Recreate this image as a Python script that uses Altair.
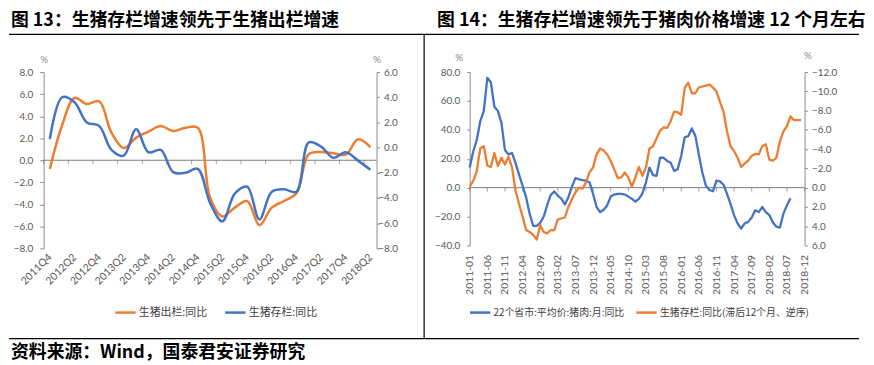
import json
import altair as alt
import pandas as pd

# ---------------- data: figure 13 (quarterly) ----------------
QUARTERS = ["2011Q4", "2012Q1", "2012Q2", "2012Q3", "2012Q4",
            "2013Q1", "2013Q2", "2013Q3", "2013Q4",
            "2014Q1", "2014Q2", "2014Q3", "2014Q4",
            "2015Q1", "2015Q2", "2015Q3", "2015Q4",
            "2016Q1", "2016Q2", "2016Q3", "2016Q4",
            "2017Q1", "2017Q2", "2017Q3", "2017Q4",
            "2018Q1", "2018Q2"]
# 生猪出栏:同比 (left axis)
OUT_YOY = [-0.8, 3.2, 5.65, 5.1, 5.35, 2.5, 1.1, 2.05, 2.6, 3.1, 2.65, 2.95, 2.95,
           -3.4, -5.1, -4.3, -3.7, -5.9, -4.3, -3.7, -3.0, 0.55, 0.75, 0.63, 0.5, 1.9, 1.2]
# 生猪存栏:同比 (right axis)
STOCK_YOY = [0.68, 4.0, 3.6, 2.0, 1.73, -0.18, -0.63, 1.47, -0.37, -0.18, -1.94, -2.0, -1.68,
             -4.4, -5.85, -3.65, -3.1, -5.7, -3.5, -3.3, -3.5, 0.42, 0.08, -0.81, -0.37, -1.03, -1.76]

# ---------------- data: figure 14 (monthly) ----------------
MONTHS = [f"{y}-{m:02d}" for y in range(2011, 2019) for m in range(1, 13)]
# 22个省市:平均价:猪肉:月:同比 (left axis), 2011-01 .. 2018-08
PORK_YOY = [14, 25, 33, 46, 53, 76, 73, 56, 53, 45,
            26, 23, 24, 17, 9, 1.4, -6.6, -18, -26.4, -26.4,
            -24.4, -20, -12, -5, -2.7, -5.5, -7.7, -11.6, -6.6, 0.7,
            6.6, 5.8, 5.2, 4.8, 3.6, -4.3, -13.4, -16.9, -15.3, -12.3,
            -6.2, -4.8, -4.3, -4.3, -4.8, -6.2, -7.7, -9.6, -7.7, -3.9,
            3.6, 13.9, 8.7, 8.2, 20.7, 20.7, 18.5, 17.3, 11.6, 12.8,
            21.9, 34.9, 35.6, 41, 36, 23, 10.5, 1.4, -1.6, -2.5,
            4.8, 4.3, 2, -4.3, -11.2, -19, -24.8, -28.3, -24.8, -23.7,
            -20.7, -15.7, -16.9, -13.4, -16.9, -19, -24, -27, -27.6, -18,
            -12.3, -7.3]
# 生猪存栏:同比(滞后12个月、逆序) (right axis, reversed), 2011-01 .. 2018-11
STOCK_LAG_YOY = [-0.1, -0.7, -1.7, -4.1, -4.3, -2.3, -2.15, -3.6, -2.25, -3.1,
                 -2.4, -3.2, -2.1, 0.3, 1.7, 3.0, 4.4, 4.6, 4.9, 5.4,
                 3.9, 4.6, 4.75, 4.4, 4.4, 3.3, 3.2, 3.1, 2.0, 1.2,
                 0.5, 0.0, 0.1, -0.55, -1.6, -2.1, -3.45, -4.07, -3.86, -3.45,
                 -2.77, -1.9, -1.0, -1.06, -1.57, -1.06, -0.1, -1.06, -2.15, -1.23,
                 -2.1, -4.07, -4.3, -5.1, -5.9, -6.26, -6.2, -6.9, -7.9, -7.83,
                 -7.56, -10.36, -10.9, -9.8, -9.8, -10.4, -10.5, -10.6, -10.7, -10.4,
                 -10.0, -8.9, -7.9, -5.85, -4.3, -3.8, -3.1, -2.15, -2.5, -2.8,
                 -3.3, -3.5, -3.45, -4.3, -4.5, -2.9, -2.8, -3.1, -4.8, -5.85,
                 -6.4, -7.4, -7.0, -7.0, -7.0]

SER1_A = "生猪出栏:同比"
SER1_B = "生猪存栏:同比"
SER2_A = "22个省市:平均价:猪肉:月:同比"
SER2_B = "生猪存栏:同比(滞后12个月、逆序)"
TITLE1 = "图 13：生猪存栏增速领先于生猪出栏增速"
TITLE2 = "图 14：生猪存栏增速领先于猪肉价格增速 12 个月左右"
SOURCE = "资料来源：Wind，国泰君安证券研究"

# ---------------- styles ----------------
ORANGE = "#ED7D31"
BLUE = "#4472C4"
AXIS_GREY = "#8c8c8c"
ZERO_GREY = "#7a7a7a"
LABEL_GREY = "#595959"
NUM_FONT = "Lato"
CJK_FONT = "Noto Sans CJK SC"

W1, H1 = 336, 178
W2, H2 = 338, 175
GAP = 94

one = pd.DataFrame({"k": [0]})


def y_axis(orient, values, tsize, pad, tx, ty, align=None):
    kw = dict(orient=orient, values=values, format=".1f", tickSize=tsize, labelPadding=pad,
              domainColor=AXIS_GREY, tickColor=AXIS_GREY, labelColor=LABEL_GREY,
              labelFont=NUM_FONT, labelFontSize=10, grid=False,
              title="%", titleAngle=0, titleX=tx, titleY=ty, titleAlign="center",
              titleBaseline="middle", titleFont=NUM_FONT, titleFontSize=10,
              titleFontWeight="normal", titleColor="#8c8c8c")
    if align:
        kw["labelAlign"] = align
    return alt.Axis(**kw)


def x_axis(cats, values, angle, pad):
    expr = json.dumps(cats) + "[datum.value]"
    return alt.Axis(values=values, labelExpr=expr, labelAngle=angle, labelAlign="right",
                    labelBaseline="middle", labelOverlap=False, labelFlush=False,
                    domain=False, ticks=False, tickSize=0, labelPadding=pad,
                    labelFont=NUM_FONT, labelFontSize=10.5, labelColor=LABEL_GREY,
                    grid=False, title=None)


def legend(x, y, colpad, fsize):
    return alt.Legend(orient="none", legendX=x, legendY=y, direction="horizontal", title=None,
                      symbolType="stroke", symbolSize=420, symbolStrokeWidth=2.5,
                      labelFont=CJK_FONT, labelFontSize=fsize, labelColor="#404040",
                      labelOffset=2, columnPadding=colpad, padding=0, labelLimit=300)


def text_mark(txt, x, y, size=18):
    return alt.Chart(one).mark_text(text=txt, font=CJK_FONT, fontSize=size, fontWeight="bold",
                                    align="left", baseline="middle", color="#000000").encode(
        x=alt.value(x), y=alt.value(y))


def hrule(x1, x2, y, color="#000000"):
    return alt.Chart(one).mark_rule(color=color, strokeWidth=1.2).encode(
        x=alt.value(x1), x2=alt.value(x2), y=alt.value(y))


def vrule(x, y1, y2):
    return alt.Chart(one).mark_rule(color="#000000", strokeWidth=1.2).encode(
        x=alt.value(x), y=alt.value(y1), y2=alt.value(y2))


# ================= panel 1 =================
n1 = len(QUARTERS)
df1a = pd.DataFrame({"i": range(n1), "q": QUARTERS, "v": OUT_YOY, "s": SER1_A})
df1b = pd.DataFrame({"i": range(n1), "q": QUARTERS, "v": STOCK_YOY, "s": SER1_B})
ticks1 = pd.DataFrame({"t": [i - 0.5 for i in range(0, n1, 2)]})

x1s = alt.Scale(domain=[-0.5, n1 - 0.5], nice=False, zero=False)
x1a = x_axis(QUARTERS, list(range(0, n1, 2)), -45, 7)
y1ls = alt.Scale(domain=[-8, 8], nice=False, zero=False)
y1la = y_axis("left", list(range(-8, 9, 2)), 4, 7, 0, -13)
y1rs = alt.Scale(domain=[-8, 6], nice=False, zero=False)
y1ra = y_axis("right", list(range(-8, 7, 2)), 3, 18, 0, -13, align="right")
col1 = alt.Color("s:N", scale=alt.Scale(domain=[SER1_A, SER1_B], range=[ORANGE, BLUE]),
                 legend=legend(71, 231, 12, 11))

l1a = alt.Chart(df1a).mark_line(strokeWidth=2.5, interpolate="catmull-rom").encode(
    x=alt.X("i:Q", scale=x1s, axis=x1a), y=alt.Y("v:Q", scale=y1ls, axis=y1la), color=col1)
z1 = alt.Chart(one).mark_rule(color=ZERO_GREY, strokeWidth=1).encode(
    y=alt.YDatum(0, scale=y1ls, axis=y1la))
t1 = alt.Chart(ticks1).mark_tick(orient="vertical", size=4, thickness=1, color=ZERO_GREY,
                                 yOffset=2).encode(
    x=alt.X("t:Q", scale=x1s, axis=x1a), y=alt.YDatum(0, scale=y1ls, axis=y1la))
l1b = alt.Chart(df1b).mark_line(strokeWidth=2.5, interpolate="catmull-rom").encode(
    x=alt.X("i:Q", scale=x1s, axis=x1a), y=alt.Y("v:Q", scale=y1rs, axis=y1ra), color=col1)

# origin of panel 1 view on the page: (43, 70)
panel1 = alt.layer(
    alt.layer(z1, t1, l1a),
    l1b,
    hrule(-35, 823, -62, color="#ffffff"),
    text_mark(TITLE1, -33, -51),
    hrule(-35, 823, -38),
    vrule(384, -38, 269),
    hrule(-35, 823, 269),
    text_mark(SOURCE, -33, 284),
).resolve_scale(y="independent").properties(width=W1, height=H1)

# ================= panel 2 =================
n2 = len(MONTHS)
df2a = pd.DataFrame({"i": range(len(PORK_YOY)), "v": PORK_YOY, "s": SER2_A})
df2b = pd.DataFrame({"i": range(len(STOCK_LAG_YOY)), "v": STOCK_LAG_YOY, "s": SER2_B})
ticks2 = pd.DataFrame({"t": list(range(0, n2, 5))})

x2s = alt.Scale(domain=[0, n2 - 1], nice=False, zero=False)
x2a = x_axis(MONTHS, list(range(0, n2, 5)), -90, 9)
y2ls = alt.Scale(domain=[-40, 80], nice=False, zero=False)
y2la = y_axis("left", list(range(-40, 81, 20)), 3, 7, -11, -15)
y2rs = alt.Scale(domain=[-12, 6], nice=False, zero=False, reverse=True)
y2ra = y_axis("right", list(range(-12, 7, 2)), 3, 4, 3, -17)
col2 = alt.Color("s:N", scale=alt.Scale(domain=[SER2_A, SER2_B], range=[BLUE, ORANGE]),
                 legend=legend(-1, 231, 6, 10))

l2a = alt.Chart(df2a).mark_line(strokeWidth=2.3, strokeJoin="round").encode(
    x=alt.X("i:Q", scale=x2s, axis=x2a), y=alt.Y("v:Q", scale=y2ls, axis=y2la), color=col2)
z2 = alt.Chart(one).mark_rule(color=ZERO_GREY, strokeWidth=1).encode(
    y=alt.YDatum(0, scale=y2ls, axis=y2la))
t2 = alt.Chart(ticks2).mark_tick(orient="vertical", size=4, thickness=1, color=ZERO_GREY,
                                 yOffset=2).encode(
    x=alt.X("t:Q", scale=x2s, axis=x2a), y=alt.YDatum(0, scale=y2ls, axis=y2la))
l2b = alt.Chart(df2b).mark_line(strokeWidth=2.3, strokeJoin="round").encode(
    x=alt.X("i:Q", scale=x2s, axis=x2a), y=alt.Y("v:Q", scale=y2rs, axis=y2ra), color=col2)

# origin of panel 2 view on the page: (473, 70)
panel2 = alt.layer(
    alt.layer(z2, t2, l2a),
    l2b,
    text_mark(TITLE2, -33, -51),
).resolve_scale(y="independent").properties(width=W2, height=H2)

chart = alt.hconcat(panel1, panel2, spacing=GAP, bounds="flush").resolve_scale(
    color="independent").properties(padding=0).configure_view(strokeWidth=0)

chart.save("out.html", embed_options={"renderer": "svg", "actions": False})
